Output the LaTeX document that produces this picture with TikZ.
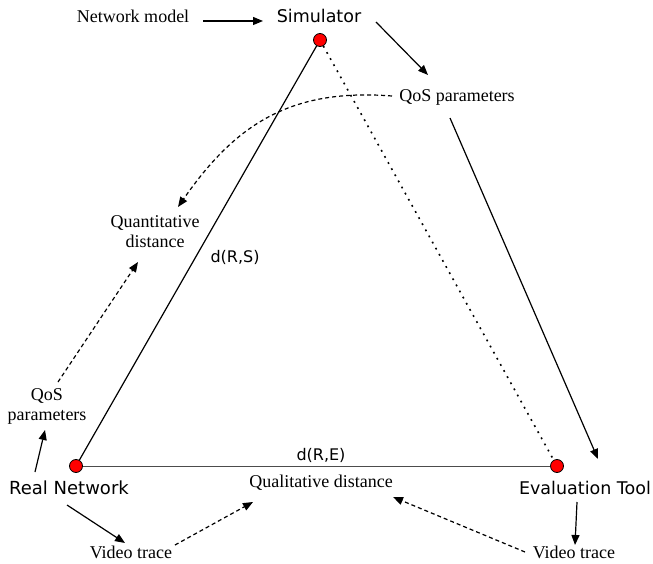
\documentclass[tikz,border=0pt]{standalone}
\usepackage{fontspec}
\setmainfont{Liberation Serif}
\newfontfamily\sansf{DejaVu Sans}
\usetikzlibrary{arrows.meta}
\tikzset{
  lbl/.style={inner sep=0pt, align=center, font=\fontsize{18}{20}\selectfont},
  slbl/.style={inner sep=0pt, align=center, font=\sansf\fontsize{17.5}{20}\selectfont},
  dlbl/.style={inner sep=0pt, font=\sansf\fontsize{16}{18}\selectfont},
  dotnode/.style={circle, fill=red, draw=black, line width=0.8pt, minimum size=13pt, inner sep=0pt},
  arr/.style={-{Triangle[length=10pt,width=8pt]}, line width=1.2pt},
  darr/.style={-{Triangle[length=10pt,width=8pt]}, line width=1.2pt, dash pattern=on 4pt off 3pt},
}
\begin{document}
\begin{tikzpicture}[x=1pt, y=-1pt]
\useasboundingbox (0,0) rectangle (653,564);
% labels
\node[lbl] (netmodel) at (133,16) {Network model};
\node[slbl] (sim) at (319,16) {Simulator};
\node[lbl] (qos1) at (457,97) {QoS parameters};
\node[lbl] (quant) at (155,232) {Quantitative\\distance};
\node[dlbl] (dRS) at (235,257) {d(R,S)};
\node[lbl] (qos2) at (47,406) {QoS\\parameters};
\node[slbl, font=\sansf\fontsize{18}{20}\selectfont] (real) at (69,488) {Real Network};
\node[slbl] (eval) at (585,488) {Evaluation Tool};
\node[dlbl] (dRE) at (321,455) {d(R,E)};
\node[lbl] (qual) at (321,483) {Qualitative distance};
\node[lbl] (vt1) at (131,552) {Video trace};
\node[lbl] (vt2) at (574,552) {Video trace};
% dots
\node[dotnode] (simdot) at (320,40) {};
\node[dotnode] (realdot) at (76,466) {};
\node[dotnode] (evaldot) at (557,466) {};
% triangle
\draw[line width=1.2pt] (simdot) -- (realdot);
\draw[line width=0.9pt, black!70] (realdot) -- (evaldot);
\draw[line width=1.6pt, dash pattern=on 1.8pt off 5.2pt] (simdot) -- (evaldot);
% connectors
\draw[arr] ([shift={(70,5)}]netmodel.center) -- ([shift={(-56,5)}]sim.center);
\draw[arr] ([shift={(57,6)}]sim.center) -- ([shift={(-29,-22)}]qos1.center);
\draw[darr] ([shift={(-65,-1)}]qos1.center) .. controls (290,88) and (235,125) .. ([shift={(23,-25)}]quant.center);
\draw[arr] ([shift={(-7,21)}]qos1.center) -- ([shift={(13,-29)}]eval.center);
\draw[darr] ([shift={(11,-24)}]qos2.center) -- ([shift={(-17,30)}]quant.center);
\draw[arr] ([shift={(-34,-16)}]real.center) -- ([shift={(-2,24)}]qos2.center);
\draw[arr] ([shift={(-2,17)}]real.center) -- ([shift={(-6,-9)}]vt1.center);
\draw[darr] ([shift={(44,-7)}]vt1.center) -- ([shift={(-68,19)}]qual.center);
\draw[arr] ([shift={(-8,14)}]eval.center) -- ([shift={(1,-7)}]vt2.center);
\draw[darr] ([shift={(-49,0)}]vt2.center) -- ([shift={(72,14)}]qual.center);
\end{tikzpicture}
\end{document}
